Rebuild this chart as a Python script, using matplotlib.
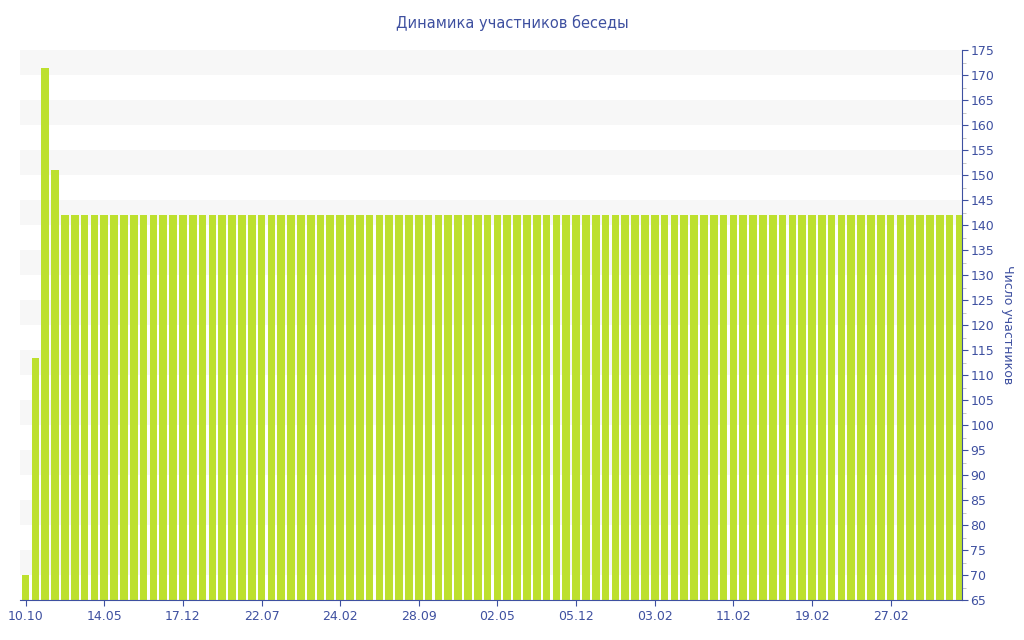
import numpy as np
import matplotlib.pyplot as plt
from matplotlib.ticker import MultipleLocator

# values per day (96 bars), ticks every 8 bars
first_values = [70, 113.4, 171.5, 151]
steady_value = 142
n_bars = 96
values = first_values + [steady_value] * (n_bars - len(first_values))

tick_labels = ['10.10', '14.05', '17.12', '22.07', '24.02', '28.09',
               '02.05', '05.12', '03.02', '11.02', '19.02', '27.02']
tick_step = 8

title = 'Динамика участников беседы'
y_label = 'Число участников'

text_color = '#3e50a0'
bar_color = '#bde02e'
band_color = '#f7f7f7'

fig = plt.figure(figsize=(10.24, 6.4), dpi=100)
ax = fig.add_axes([20 / 1024, 1 - 600 / 640, 942 / 1024, 550 / 640])

x = np.arange(n_bars)
ax.bar(x, values, width=0.78, color=bar_color, zorder=2)

ax.set_ylim(65, 175)
ax.set_xlim(-0.57, n_bars - 0.74)

# alternating bands
for lo in range(70, 175, 10):
    ax.axhspan(lo, lo + 5, color=band_color, zorder=0, lw=0)

for side in ['top', 'left']:
    ax.spines[side].set_visible(False)
ax.spines['right'].set_color(text_color)
ax.spines['bottom'].set_color(text_color)

ax.yaxis.tick_right()
ax.yaxis.set_label_position('right')
ax.yaxis.set_major_locator(MultipleLocator(5))
ax.yaxis.set_minor_locator(MultipleLocator(2.5))
ax.tick_params(axis='y', which='major', colors=text_color, labelsize=9,
               length=4, pad=2)
ax.tick_params(axis='y', which='minor', color='#bbbbbb', length=3)

ax.set_xticks(x[::tick_step])
ax.set_xticklabels(tick_labels)
ax.tick_params(axis='x', colors=text_color, labelsize=9, length=4, pad=3)

ax.set_ylabel(y_label, color=text_color, fontsize=9, rotation=-90, labelpad=14)

fig.suptitle(title, color=text_color, fontsize=10.5, y=0.977)

fig.savefig('out.png', dpi=100)
